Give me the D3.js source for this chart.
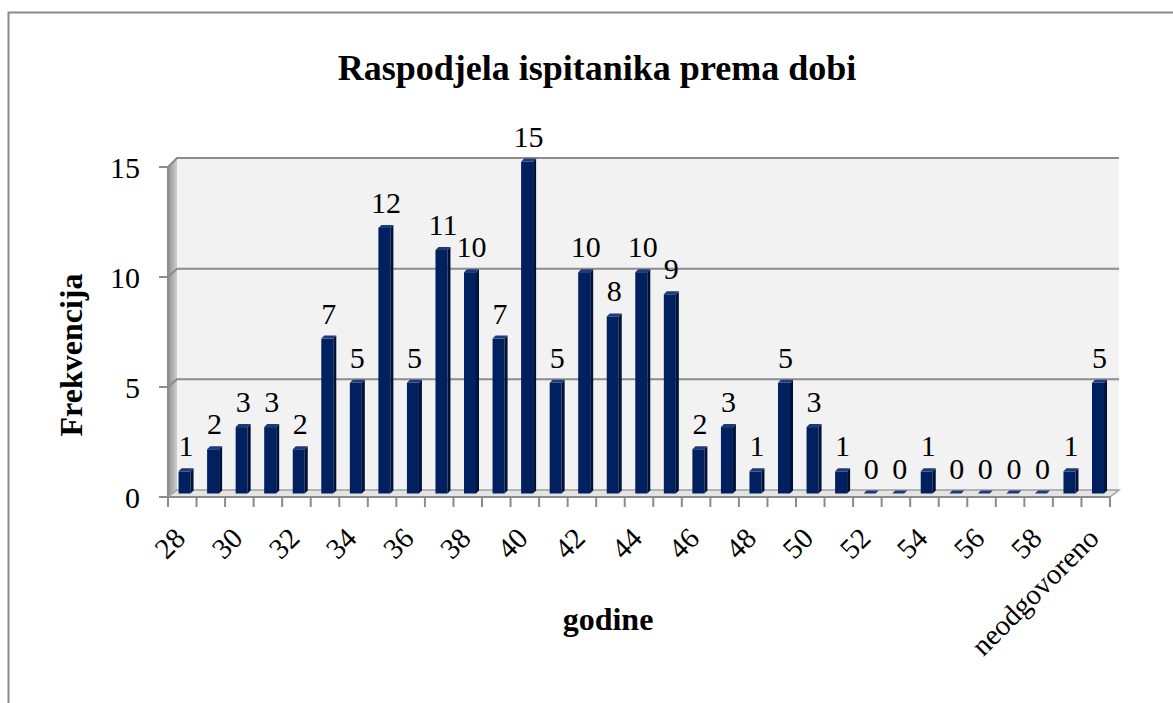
<!DOCTYPE html>
<html>
<head>
<meta charset="utf-8">
<script src="https://cdn.jsdelivr.net/npm/d3@7"></script>
<style>
  body { margin: 0; background: #fff; }
  text { font-family: "Liberation Serif", "Times New Roman", serif; fill: #000; }
</style>
</head>
<body>
<div id="chart"></div>
<script>
// Data
const ages = ["28","29","30","31","32","33","34","35","36","37","38","39","40","41","42","43",
              "44","45","46","47","48","49","50","51","52","53","54","55","56","57","58","59","neodgovoreno"];
const counts = [1,2,3,3,2,7,5,12,5,11,10,7,15,5,10,8,10,9,2,3,1,5,3,1,0,0,1,0,0,0,0,1,5];
const yTicks = [0, 5, 10, 15];
// only every second category gets a label
const shownLabels = ["28","30","32","34","36","38","40","42","44","46","48","50","52","54","56","58","neodgovoreno"];

const width = 1173, height = 703;
const depthX = 9, depthY = 7; // 3D offset of the back wall

const svg = d3.select("#chart").append("svg")
    .attr("width", width)
    .attr("height", height);

const defs = svg.append("defs");
const wallGrad = defs.append("linearGradient").attr("id", "wallGrad")
    .attr("x1", "0%").attr("x2", "100%").attr("y1", "0%").attr("y2", "0%");
wallGrad.append("stop").attr("offset", "0%").attr("stop-color", "#8f8f8f");
wallGrad.append("stop").attr("offset", "100%").attr("stop-color", "#cfcfcf");

// chart border
svg.append("rect")
    .attr("x", 8.5).attr("y", 12.5)
    .attr("width", width + 20).attr("height", height + 20)
    .attr("fill", "none")
    .attr("stroke", "#8a8a8a")
    .attr("stroke-width", 2);

// Scales
const x = d3.scaleBand().domain(ages).range([168, 1110]);
const yFront = d3.scaleLinear().domain([0, 15]).range([497, 167]);
const yBack = d3.scaleLinear().domain([0, 15]).range([490, 158]);
const yBar = d3.scaleLinear().domain([0, 15]).range([493.5, 161.5]);

const left = x.range()[0], right = x.range()[1];

// back wall
svg.append("rect")
    .attr("x", left + depthX).attr("y", yBack(15))
    .attr("width", right - left).attr("height", yBack(0) - yBack(15))
    .attr("fill", "#f2f2f2");

// left side wall
svg.append("path")
    .attr("d", `M${left},${yFront(0)} L${left},${yFront(15)} L${left + depthX},${yBack(15)} L${left + depthX},${yBack(0)} Z`)
    .attr("fill", "url(#wallGrad)");

// gridlines on back wall and side wall
const grid = svg.append("g");
grid.selectAll(".gb")
    .data(yTicks.filter(d => d > 0))
    .enter().append("path")
    .attr("d", d => `M${left},${yFront(d)} L${left + depthX},${yBack(d)} L${right + depthX},${yBack(d)}`)
    .attr("fill", "none")
    .attr("stroke", "#8c8c8c")
    .attr("stroke-width", 2);

// floor
svg.append("path")
    .attr("d", `M${left},${yFront(0)} L${right},${yFront(0)} L${right + depthX},${yBack(0)} L${left + depthX},${yBack(0)} Z`)
    .attr("fill", "#e4e4e4")
    .attr("stroke", "#a0a0a0")
    .attr("stroke-width", 1.5);
svg.append("line")
    .attr("x1", left).attr("x2", right)
    .attr("y1", yFront(0)).attr("y2", yFront(0))
    .attr("stroke", "#8c8c8c").attr("stroke-width", 2);

// vertical axis front edge + ticks
svg.append("line")
    .attr("x1", left).attr("x2", left)
    .attr("y1", yFront(0)).attr("y2", yFront(15))
    .attr("stroke", "#8c8c8c").attr("stroke-width", 2);

const yAxis = svg.append("g");
yAxis.selectAll("line")
    .data(yTicks)
    .enter().append("line")
    .attr("x1", left - 9).attr("x2", left)
    .attr("y1", d => yFront(d)).attr("y2", d => yFront(d))
    .attr("stroke", "#8c8c8c").attr("stroke-width", 2);
yAxis.selectAll("text")
    .data(yTicks)
    .enter().append("text")
    .attr("x", 140)
    .attr("y", d => yFront(d))
    .attr("dy", "0.35em")
    .attr("text-anchor", "end")
    .style("font-size", "30px")
    .text(d => d);

// x ticks
const xAxis = svg.append("g");
xAxis.selectAll("line")
    .data(ages.concat(["end"]))
    .enter().append("line")
    .attr("x1", (d, i) => left + i * x.bandwidth())
    .attr("x2", (d, i) => left + i * x.bandwidth())
    .attr("y1", yFront(0)).attr("y2", yFront(0) + 10)
    .attr("stroke", "#8c8c8c").attr("stroke-width", 2);

// bars (front face, right side, top)
const barW = 12, sideW = 3;
const barLeft = d => x(d) + x.bandwidth() * 0.37;
const bars = svg.append("g")
    .selectAll("g")
    .data(ages.map((a, i) => ({ age: a, value: counts[i] })))
    .enter().append("g");

bars.filter(d => d.value > 0).append("rect")
    .attr("x", d => barLeft(d.age))
    .attr("y", d => yBar(d.value))
    .attr("width", barW)
    .attr("height", d => yBar(0) - yBar(d.value))
    .attr("fill", "#002060");

bars.filter(d => d.value > 0).append("path")
    .attr("d", d => {
        const bx = barLeft(d.age) + barW, t = yBar(d.value), b = yBar(0);
        return `M${bx},${b} L${bx},${t} L${bx + sideW},${t - sideW} L${bx + sideW},${b - sideW} Z`;
    })
    .attr("fill", "#001238");

bars.append("path")
    .attr("d", d => {
        const bx = barLeft(d.age), t = yBar(d.value);
        return `M${bx},${t} L${bx + sideW},${t - sideW} L${bx + barW + sideW},${t - sideW} L${bx + barW},${t} Z`;
    })
    .attr("fill", "#1d3a78");

// data labels
bars.append("text")
    .attr("x", d => barLeft(d.age) + (barW + sideW) / 2)
    .attr("y", d => yBar(d.value) - 15)
    .attr("text-anchor", "middle")
    .style("font-size", "30px")
    .text(d => d.value);

// category labels, rotated
xAxis.selectAll("text")
    .data(shownLabels)
    .enter().append("text")
    .attr("transform", d => `translate(${barLeft(d) + (barW + sideW) / 2 + 1},540) rotate(-45)`)
    .attr("text-anchor", "end")
    .style("font-size", "29px")
    .text(d => d);

// titles
svg.append("text")
    .attr("x", 597).attr("y", 80)
    .attr("text-anchor", "middle")
    .style("font-size", "36px")
    .style("font-weight", "bold")
    .text("Raspodjela ispitanika prema dobi");

svg.append("text")
    .attr("x", 608).attr("y", 630)
    .attr("text-anchor", "middle")
    .style("font-size", "32px")
    .style("font-weight", "bold")
    .text("godine");

svg.append("text")
    .attr("transform", "translate(82,355) rotate(-90)")
    .attr("text-anchor", "middle")
    .style("font-size", "32px")
    .style("font-weight", "bold")
    .text("Frekvencija");
</script>
</body>
</html>
